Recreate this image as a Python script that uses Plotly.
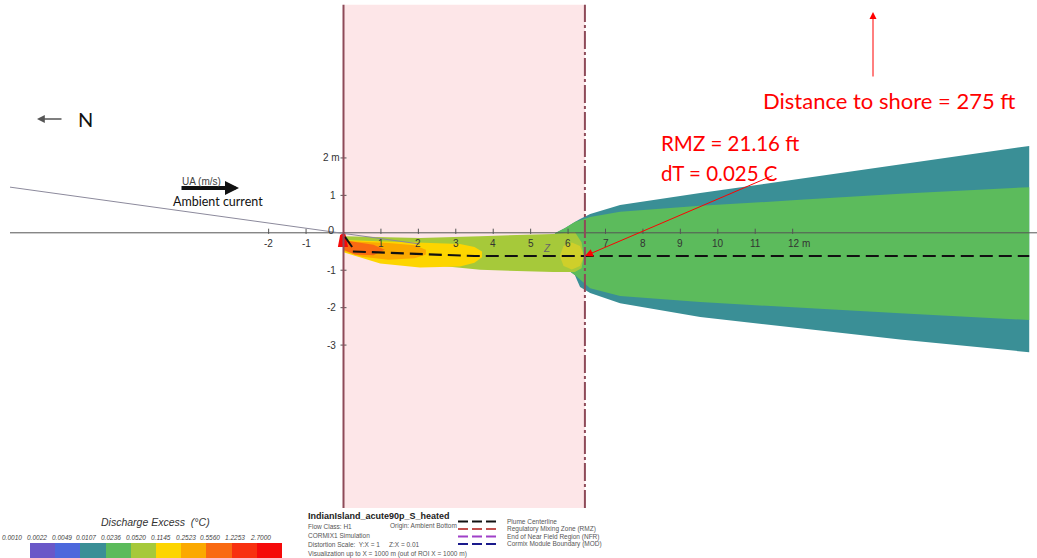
import plotly.graph_objects as go

# ---------------------------------------------------------------- canvas
W, H = 1037, 558
PX_PER_M = 37.43            # drawing scale (pixels per metre, Y:X = 1)
ORIGIN_PX = (343.5, 232.8)  # where the discharge point (0, 0) sits
X_RANGE = [-ORIGIN_PX[0] / PX_PER_M, (W - ORIGIN_PX[0]) / PX_PER_M]
Y_RANGE = [(ORIGIN_PX[1] - H) / PX_PER_M, ORIGIN_PX[1] / PX_PER_M]

# ---------------------------------------------------------------- data (m)
RMZ_FT = 21.16
RMZ_M = RMZ_FT * 0.3048
RMZ_Y = [-7.35, 6.09]
CENTERLINE_Y = -0.62

# far-field plume, 0.0107 degC contour (teal)
teal_x_top = [5.65, 5.92, 6.18, 6.32, 6.59, 7.39, 9.53, 12.20, 14.87, 18.32]
teal_y_top = [-0.01, 0.13, 0.29, 0.37, 0.50, 0.74, 1.06, 1.44, 1.84, 2.32]
teal_x_bot = [18.32, 14.87, 12.20, 9.53, 7.39, 6.59, 6.32, 6.18, 5.92, 5.65]
teal_y_bot = [-3.19, -2.85, -2.55, -2.25, -1.88, -1.61, -1.45, -1.13, -0.94, -0.78]

# far-field plume, 0.0236 degC contour (green)
green_x_top = [5.65, 5.92, 6.18, 6.59, 7.39, 9.53, 12.20, 14.87, 18.32]
green_y_top = [-0.01, 0.13, 0.29, 0.42, 0.56, 0.72, 0.88, 1.04, 1.22]
green_x_bot = [18.32, 14.87, 12.20, 9.53, 7.39, 6.59, 6.18, 5.92, 5.65]
green_y_bot = [-2.33, -2.15, -2.01, -1.85, -1.69, -1.48, -1.13, -0.94, -0.78]

# near field, 0.0520 degC contour (yellow-green)
ygreen_x = [0.01, 0.98, 2.04, 3.65, 5.60, 6.18, 6.36, 6.42, 6.36, 6.18, 5.60, 3.65, 2.04, 0.98, 0.01]
ygreen_y = [-0.09, -0.11, -0.14, -0.09, -0.03, 0.02, -0.25, -0.62, -0.95, -1.05, -1.05, -0.99, -0.83, -0.67, -0.46]

# blob at the end of the near field
blob_x = [5.78, 5.88, 6.10, 6.32, 6.42, 6.32, 6.10, 5.88, 5.78]
blob_y = [-0.62, -0.35, -0.26, -0.35, -0.62, -0.89, -0.98, -0.89, -0.62]

# 0.1145 degC contour (yellow)
yellow_x = [0.00, 0.98, 2.04, 3.11, 3.50, 3.70, 3.70, 3.50, 3.11, 2.04, 0.98, 0.00]
yellow_y = [-0.19, -0.22, -0.26, -0.30, -0.38, -0.50, -0.65, -0.80, -0.90, -0.93, -0.82, -0.52]

# 0.2523 degC contour (orange)
orange_x = [0.00, 0.50, 1.20, 1.90, 2.20, 2.20, 1.90, 1.20, 0.50, 0.00]
orange_y = [-0.22, -0.24, -0.27, -0.33, -0.45, -0.58, -0.68, -0.72, -0.64, -0.48]

# 0.5560 degC contour (dark orange)
dorange_x = [0.00, 0.30, 0.80, 1.10, 0.80, 0.30, 0.00]
dorange_y = [-0.20, -0.25, -0.32, -0.45, -0.60, -0.58, -0.45]

# discharge port (red)
red_x = [-0.09, 0.04, 0.12, -0.15, -0.09]
red_y = [-0.06, 0.02, -0.38, -0.38, -0.06]

# jet direction stub
jet_x = [0.04, 0.23]
jet_y = [-0.11, -0.38]

# plume centreline
center_x = [0.25, 3.50, 18.32]
center_y = [-0.50, CENTERLINE_Y, CENTERLINE_Y]

# ambient current direction line
current_x = [-8.91, 2.04]
current_y = [1.22, -0.30]

# axes ticks
X_TICKS = [-2, -1, 1, 2, 3, 4, 5, 6, 7, 8, 9, 10, 11, 12]
Y_TICKS = [2, 1, -1, -2, -3]

# discharge excess scale
DT_LEVELS = ["0.0010", "0.0022", "0.0049", "0.0107", "0.0236", "0.0520",
             "0.1145", "0.2523", "0.5560", "1.2253", "2.7000"]
DT_COLORS = ["#6a58c8", "#4c68dc", "#3a8f96", "#5cbb5c", "#a6c93a",
             "#fdd500", "#fba900", "#f96a12", "#f8300f", "#f50a0a"]

LEGEND_LINES = [("Plume Centerline", "#111111"),
                ("Regulatory Mixing Zone (RMZ)", "#c0504d"),
                ("End of Near Field Region (NFR)", "#a040c8"),
                ("Cormix Module Boundary (MOD)", "#1a1a8c")]

INFO_LINES = ["Flow Class: H1", "CORMIX1 Simulation",
              "Distortion Scale:  Y:X = 1     Z:X = 0.01",
              "Visualization up to X = 1000 m (out of ROI X = 1000 m)"]

PINK = "#fde6e8"
RMZ_EDGE = "#8e4a58"
ARIAL = "Liberation Sans, Arial, sans-serif"
CALIBRI = "Lato, Open Sans, sans-serif"


def px(x):
    return x / W


def py(y):
    return 1 - y / H


fig = go.Figure()


def poly(xs, ys, color):
    fig.add_trace(go.Scatter(x=xs, y=ys, mode="lines", fill="toself",
                             fillcolor=color, line=dict(width=0, color=color),
                             hoverinfo="skip", showlegend=False))


def line(xs, ys, color, width=1, dash="solid"):
    fig.add_trace(go.Scatter(x=xs, y=ys, mode="lines",
                             line=dict(color=color, width=width, dash=dash),
                             hoverinfo="skip", showlegend=False))


ann = []


def label(x, y, text, size, color, family=ARIAL, xanchor="center",
          ref="paper", xshift=0):
    ann.append(dict(x=x, y=y, xref="x" if ref == "data" else "paper",
                    yref="y" if ref == "data" else "paper", text=text,
                    showarrow=False, xanchor=xanchor, yanchor="middle",
                    xshift=xshift,
                    font=dict(family=family, size=size, color=color)))


def arrow(x, y, ax, ay, color, width, size, ref="paper"):
    ann.append(dict(x=x, y=y, xref="x" if ref == "data" else "paper",
                    yref="y" if ref == "data" else "paper", text="",
                    showarrow=True, ax=ax, ay=ay, arrowcolor=color,
                    arrowwidth=width, arrowhead=2, arrowsize=size))


# regulatory mixing zone background
fig.add_shape(type="rect", xref="x", yref="y", x0=0, x1=RMZ_M,
              y0=RMZ_Y[0], y1=RMZ_Y[1], fillcolor=PINK, line_width=0,
              layer="below")

# plume contours
poly(teal_x_top + teal_x_bot, teal_y_top + teal_y_bot, DT_COLORS[2])
poly(green_x_top + green_x_bot, green_y_top + green_y_bot, DT_COLORS[3])
poly(ygreen_x, ygreen_y, DT_COLORS[4])
poly(blob_x, blob_y, "#cfcf2a")
poly(yellow_x, yellow_y, DT_COLORS[5])
poly(orange_x, orange_y, DT_COLORS[6])
poly(dorange_x, dorange_y, DT_COLORS[7])
poly(red_x, red_y, DT_COLORS[9])
line(jet_x, jet_y, "#111111", 2)

# axes
line([current_x[0], X_RANGE[1]], [0, 0], "#555555", 1)
for t in X_TICKS + [0]:
    line([t, t], [-0.03, 0.11], "#555555", 1)
for t in Y_TICKS:
    line([-0.08, 0.08], [t, t], "#555555", 1)

# centreline and current direction
line(center_x, center_y, "#111111", 2.2, "13px,6px")
line(current_x, current_y, "#8c8a9c", 1)

# RMZ edges
line([0, 0], RMZ_Y, RMZ_EDGE, 2)
line([RMZ_M, RMZ_M], RMZ_Y, RMZ_EDGE, 2, "18px,3px,3px,3px")

# tick labels
for t in X_TICKS:
    if t == 12:
        label(t, -0.28, "12 m", 10, "#333333", xanchor="left", ref="data",
              xshift=-7)
    else:
        label(t, -0.28, f"{t}", 10, "#333333", ref="data")
for t in Y_TICKS:
    if t == 2:
        label(-0.15, t, "2 m", 10, "#333333", xanchor="right", ref="data",
              xshift=4)
    else:
        label(-0.15, t, f"{t}", 10, "#333333", xanchor="right", ref="data")
label(-0.2, 0.07, "0", 11, "#333333", xanchor="right", ref="data")
label(5.45, -0.43, "<i>Z</i>", 10, "#666666", ref="data")

# RMZ call-out
arrow(RMZ_M, CENTERLINE_Y, 189, -81, "#ff0000", 1, 1.6, ref="data")
label(px(659), py(143), f"RMZ = {RMZ_FT:.2f} ft", 20.5, "#ff0000",
      family=CALIBRI, xanchor="left")
label(px(659), py(173), "dT = 0.025 C", 20.5, "#ff0000", family=CALIBRI,
      xanchor="left")

# shore distance
arrow(px(873), py(12), 0, 66, "#ff0000", 1, 1.4)
label(px(761), py(100), "Distance to shore = 275 ft", 22, "#ff0000",
      family=CALIBRI, xanchor="left")

# north arrow
arrow(px(37), py(119), 26, 0, "#555555", 1.3, 1.2)
label(px(76), py(119), "N", 20, "#111111", family=CALIBRI, xanchor="left")

# ambient current marker
arrow(px(239), py(188), -59, 0, "#111111", 4, 0.7)
label(px(180), py(181), "UA (m/s)", 10, "#444444", xanchor="left")
label(px(171), py(201), "Ambient current", 12.5, "#111111", family=CALIBRI,
      xanchor="left")

# discharge excess scale labels
label(px(155), py(522), "<i>Discharge Excess  (°C)</i>", 10.5, "#333333")
for i, lab in enumerate(DT_LEVELS):
    label(px(12 + 24.8 * i), py(537), f"<i>{lab}</i>", 6.5, "#444444")

# simulation info block
label(px(306), py(516), "<b>IndianIsland_acute90p_S_heated</b>", 9,
      "#222222", xanchor="left")
for i, t in enumerate(INFO_LINES):
    label(px(306), py(526 + 9.2 * i), t, 6.5, "#555555", xanchor="left")
label(px(388), py(526), "Origin: Ambient Bottom", 6.5, "#555555",
      xanchor="left")

for i, (lab, col) in enumerate(LEGEND_LINES):
    yy = 521.5 + 7.5 * i
    fig.add_shape(type="line", xref="paper", yref="paper",
                  x0=px(458), x1=px(499), y0=py(yy), y1=py(yy),
                  line=dict(color=col, width=2, dash="10px,4px"))
    label(px(505), py(yy), lab, 6.5, "#555555", xanchor="left")

# colour key strip
fig.add_trace(go.Heatmap(
    z=[list(range(len(DT_COLORS)))], x=list(range(len(DT_COLORS))), y=[0],
    colorscale=[c for i, col in enumerate(DT_COLORS)
                for c in ([i / len(DT_COLORS), col], [(i + 1) / len(DT_COLORS), col])],
    zmin=0, zmax=len(DT_COLORS) - 1, showscale=False, hoverinfo="skip",
    xaxis="x2", yaxis="y2", xgap=0))

fig.update_layout(
    width=W, height=H, margin=dict(l=0, r=0, t=0, b=0),
    paper_bgcolor="white", plot_bgcolor="rgba(0,0,0,0)",
    xaxis=dict(range=X_RANGE, visible=False, domain=[0, 1]),
    yaxis=dict(range=Y_RANGE, visible=False, domain=[0, 1]),
    xaxis2=dict(domain=[px(30), px(282)], range=[-0.5, len(DT_COLORS) - 0.5],
                visible=False, anchor="y2"),
    yaxis2=dict(domain=[0, 15 / H], range=[-0.5, 0.5], visible=False,
                anchor="x2"),
    annotations=ann, showlegend=False,
)

fig.write_html("out.html")
